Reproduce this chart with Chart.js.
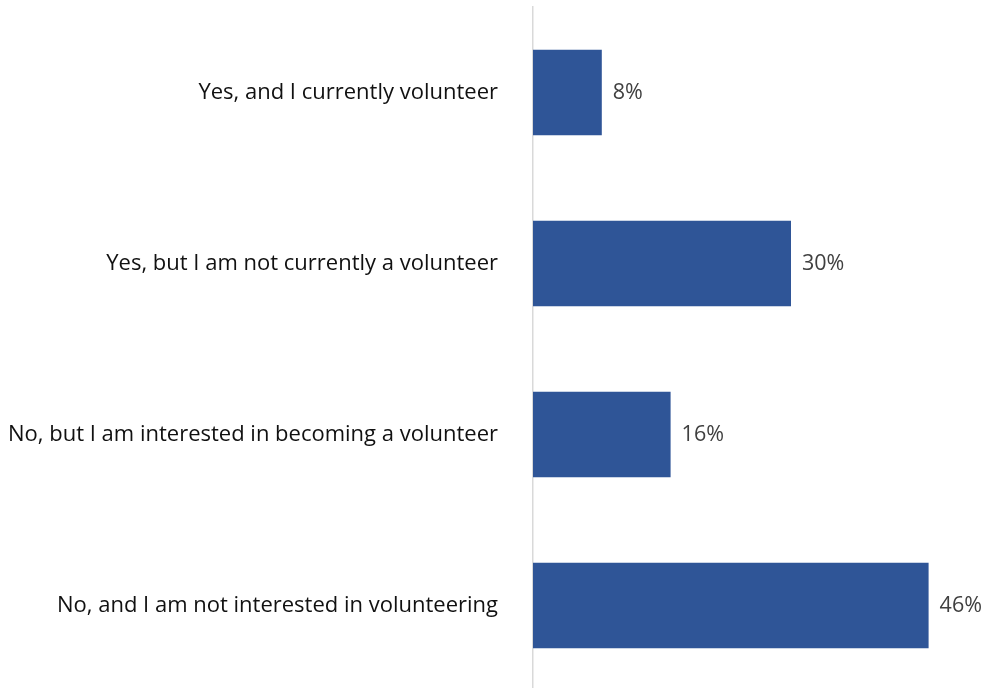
<!DOCTYPE html>
<html>
<head>
<meta charset="utf-8">
<script src="https://cdn.jsdelivr.net/npm/chart.js@4/dist/chart.umd.min.js"></script>
<style>
  html, body { margin: 0; padding: 0; background: #fff; overflow: hidden; }
  canvas { display: block; }
</style>
</head>
<body>
<canvas id="chart" width="983" height="692"></canvas>
<script>
// Survey answers and their shares (%)
const categories = [
  "Yes, and I currently volunteer",
  "Yes, but I am not currently a volunteer",
  "No, but I am interested in becoming a volunteer",
  "No, and I am not interested in volunteering"
];
const shares = [8, 30, 16, 46];
const valueLabels = ["8%", "30%", "16%", "46%"];

const FONT = "'Open Sans', Lato, sans-serif";

// Draws the percentage text just right of each bar
const barValueLabels = {
  id: "barValueLabels",
  afterDatasetsDraw(chart) {
    const ctx = chart.ctx;
    const meta = chart.getDatasetMeta(0);
    ctx.save();
    ctx.font = "21.5px " + FONT;
    ctx.fillStyle = "#404040";
    ctx.textAlign = "left";
    ctx.textBaseline = "middle";
    meta.data.forEach((bar, i) => {
      ctx.fillText(valueLabels[i], bar.x + 11, bar.y);
    });
    ctx.restore();
  }
};

new Chart(document.getElementById("chart"), {
  type: "bar",
  data: {
    labels: categories,
    datasets: [{
      data: shares,
      backgroundColor: "#2F5597",
      borderWidth: 0,
      categoryPercentage: 1,
      barPercentage: 0.5
    }]
  },
  options: {
    indexAxis: "y",
    responsive: false,
    animation: false,
    layout: { padding: { top: 7, bottom: 1, left: 0, right: 20 } },
    plugins: { legend: { display: false }, tooltip: { enabled: false } },
    scales: {
      x: { display: false, min: 0, max: 50 },
      y: {
        afterFit(scale) {
          scale.width = 533;
          scale.paddingTop = 0;
          scale.paddingBottom = 0;
        },
        grid: { display: false },
        border: { display: true, color: "#d9d9d9", width: 1.5 },
        ticks: {
          padding: 27,
          color: "#111111",
          font: { family: FONT, size: 22 }
        }
      }
    }
  },
  plugins: [barValueLabels]
});
</script>
</body>
</html>
